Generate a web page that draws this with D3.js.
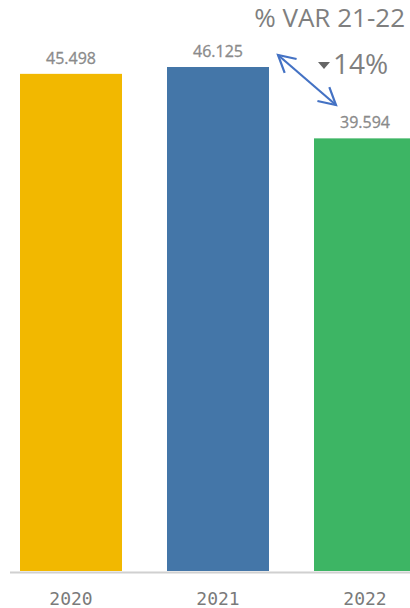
<!DOCTYPE html>
<html>
<head>
<meta charset="utf-8">
<script src="https://cdn.jsdelivr.net/npm/d3@7"></script>
<style>
  body { margin: 0; background: #fff; }
  svg { display: block; }
</style>
</head>
<body>
<div id="chart"></div>
<script>
var years = ['2020', '2021', '2022'];
var values = [45498, 46125, 39594];
var valueLabels = ['45.498', '46.125', '39.594'];
var barColors = ['#F2B800', '#4476A8', '#3DB564'];
var varTitle = '% VAR 21-22';
var varValue = '14%';

var width = 410,
	height = 608,
	baseY = 571;

var svg = d3.select('#chart')
	.append('svg')
		.attr('width', width)
		.attr('height', height);

var xScale = d3.scaleBand()
	.domain(years)
	.range([20, 416])
	.paddingInner(45 / 147)
	.paddingOuter(0);

var yScale = d3.scaleLinear()
	.domain([0, 46125])
	.range([baseY, 67]);

// bars
svg.selectAll('rect.bar').data(years)
	.enter().append('rect')
		.attr('class', 'bar')
		.attr('x', function (d) { return xScale(d); })
		.attr('width', xScale.bandwidth())
		.attr('y', function (d, i) { return yScale(values[i]); })
		.attr('height', function (d, i) { return baseY - yScale(values[i]); })
		.style('fill', function (d, i) { return barColors[i]; });

// baseline
svg.append('line')
	.attr('x1', 10).attr('x2', width)
	.attr('y1', baseY + 1.5).attr('y2', baseY + 1.5)
	.style('stroke', '#d0d0d0')
	.style('stroke-width', 2);

// value labels
svg.selectAll('text.val').data(years)
	.enter().append('text')
		.attr('class', 'val')
		.attr('x', function (d) { return xScale(d) + 51; })
		.attr('y', function (d, i) { return yScale(values[i]) - 10; })
		.attr('text-anchor', 'middle')
		.style('font-family', '"Open Sans", sans-serif')
		.style('font-size', '16px')
		.style('fill', '#8a8a8a')
		.style('stroke', '#8a8a8a')
		.style('stroke-width', 0.3)
		.text(function (d, i) { return valueLabels[i]; });

// year labels
svg.selectAll('text.year').data(years)
	.enter().append('text')
		.attr('class', 'year')
		.attr('x', function (d) { return xScale(d) + 51; })
		.attr('y', 605)
		.attr('text-anchor', 'middle')
		.style('font-family', '"DejaVu Sans Mono", monospace')
		.style('font-size', '18px')
		.style('fill', '#7a7a7a')
		.text(function (d) { return d; });

// variation annotation
svg.append('text')
	.attr('x', 405).attr('y', 27)
	.attr('text-anchor', 'end')
	.style('font-family', '"Open Sans", sans-serif')
	.style('font-size', '26px')
	.style('fill', '#7f7f7f')
	.text(varTitle);

svg.append('path')
	.attr('d', 'M318,62 L330,62 L324,69 Z')
	.style('fill', '#666');

svg.append('text')
	.attr('x', 333).attr('y', 74)
	.style('font-family', '"Open Sans", sans-serif')
	.style('font-size', '28px')
	.style('fill', '#7f7f7f')
	.text(varValue);

// double arrow between 2021 and 2022
var ax1 = 278, ay1 = 55, ax2 = 336, ay2 = 105;
svg.append('line')
	.attr('x1', ax1).attr('y1', ay1)
	.attr('x2', ax2).attr('y2', ay2)
	.style('stroke', '#4472C4')
	.style('stroke-width', 2.2);

function head(x, y, ang) {
	var a1 = ang + 0.5, a2 = ang - 0.5, len = 19;
	svg.append('path')
		.attr('d', 'M' + (x + len * Math.cos(a1)) + ',' + (y + len * Math.sin(a1)) +
			' L' + x + ',' + y +
			' L' + (x + len * Math.cos(a2)) + ',' + (y + len * Math.sin(a2)))
		.style('fill', 'none')
		.style('stroke', '#4472C4')
		.style('stroke-width', 2.2);
}
var ang = Math.atan2(ay2 - ay1, ax2 - ax1);
head(ax1, ay1, ang);
head(ax2, ay2, ang + Math.PI);
</script>
</body>
</html>
